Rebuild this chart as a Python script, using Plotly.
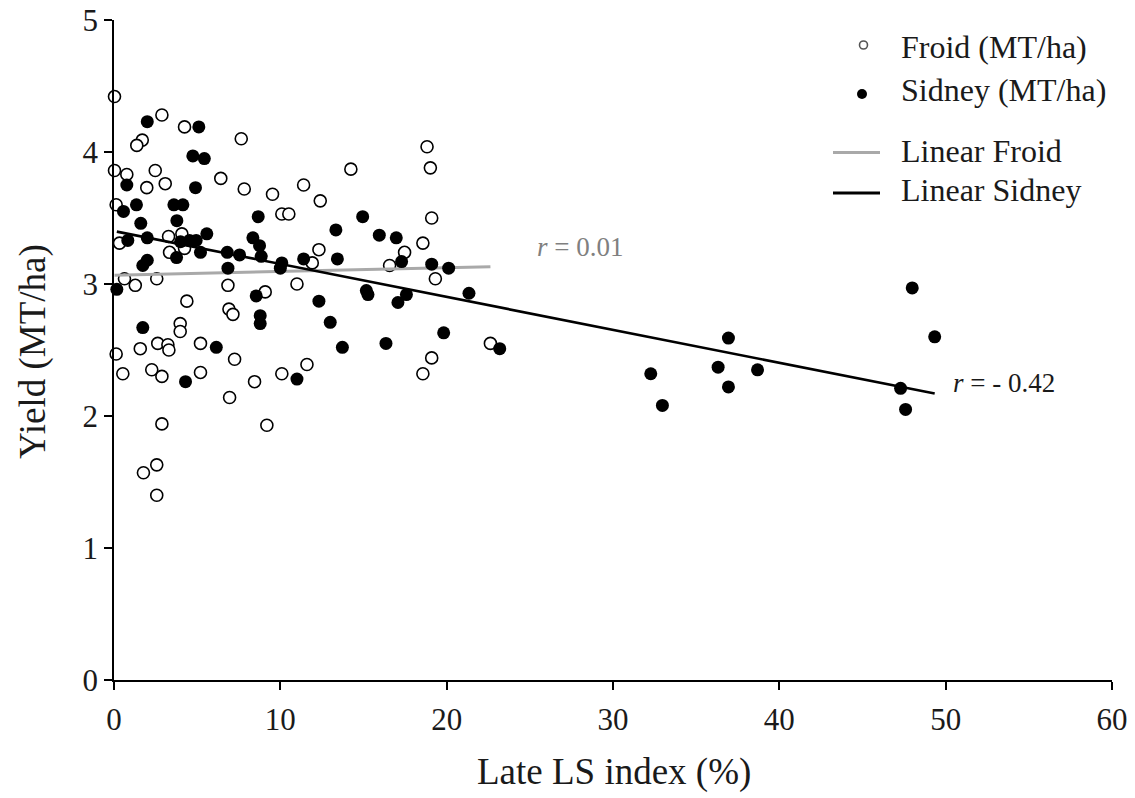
import plotly.graph_objects as go

# Froid site: late leaf-spot index (%) and yield (MT/ha)
froid_x = [0.03, 2.88, 4.24, 1.70, 1.37, 7.65, 0.03, 0.77, 2.48, 1.97,
           3.08, 6.42, 7.83, 9.53, 0.13, 10.09, 10.51, 3.28, 4.08, 0.33,
           3.34, 4.24, 0.63, 2.57, 1.28, 6.85, 4.38, 9.09, 6.91, 7.15,
           3.98, 3.98, 1.58, 2.63, 3.24, 3.30, 5.20, 0.13, 7.25, 0.53,
           2.27, 2.88, 5.20, 8.45, 6.95, 10.09, 2.88, 9.19, 2.57, 1.77,
           2.57, 18.82, 19.02, 14.24, 11.40, 12.40, 19.10, 18.57, 17.47, 12.32,
           11.92, 16.57, 19.32, 11.00, 22.63, 19.10, 18.57, 11.60]
froid_y = [4.42, 4.28, 4.19, 4.09, 4.05, 4.10, 3.86, 3.83, 3.86, 3.73,
           3.76, 3.80, 3.72, 3.68, 3.60, 3.53, 3.53, 3.36, 3.38, 3.31,
           3.24, 3.27, 3.04, 3.04, 2.99, 2.99, 2.87, 2.94, 2.81, 2.77,
           2.70, 2.64, 2.51, 2.55, 2.54, 2.50, 2.55, 2.47, 2.43, 2.32,
           2.35, 2.30, 2.33, 2.26, 2.14, 2.32, 1.94, 1.93, 1.63, 1.57,
           1.40, 4.04, 3.88, 3.87, 3.75, 3.63, 3.50, 3.31, 3.24, 3.26,
           3.16, 3.14, 3.04, 3.00, 2.55, 2.44, 2.32, 2.39]

# Sidney site: late leaf-spot index (%) and yield (MT/ha)
sidney_x = [2.00, 5.10, 4.74, 5.43, 0.77, 4.90, 0.57, 1.35, 3.60, 4.14,
            8.67, 1.61, 3.78, 2.00, 4.00, 4.54, 4.94, 5.58, 0.83, 8.35,
            8.75, 5.20, 6.81, 7.55, 8.85, 2.00, 1.73, 3.76, 6.85, 0.17,
            8.55, 8.79, 8.79, 1.73, 6.15, 4.30, 14.95, 13.34, 15.95, 16.97,
            11.40, 13.43, 17.29, 19.10, 20.12, 10.09, 10.00, 15.17, 15.27, 17.58,
            12.32, 21.34, 17.07, 13.00, 13.73, 16.35, 19.82, 23.19, 11.00, 32.27,
            32.97, 36.94, 36.32, 36.94, 38.69, 47.99, 47.29, 47.59, 49.34]
sidney_y = [4.23, 4.19, 3.97, 3.95, 3.75, 3.73, 3.55, 3.60, 3.60, 3.60,
            3.51, 3.46, 3.48, 3.35, 3.32, 3.33, 3.33, 3.38, 3.33, 3.35,
            3.29, 3.24, 3.24, 3.22, 3.21, 3.18, 3.14, 3.20, 3.12, 2.96,
            2.91, 2.76, 2.70, 2.67, 2.52, 2.26, 3.51, 3.41, 3.37, 3.35,
            3.19, 3.19, 3.17, 3.15, 3.12, 3.16, 3.12, 2.95, 2.92, 2.92,
            2.87, 2.93, 2.86, 2.71, 2.52, 2.55, 2.63, 2.51, 2.28, 2.32,
            2.08, 2.59, 2.37, 2.22, 2.35, 2.97, 2.21, 2.05, 2.60]

# Linear trend coefficients (intercept, slope) and correlation labels
froid_fit = (3.067, 0.0028)
sidney_fit = (3.401, -0.02494)
froid_r = "r = 0.01"
sidney_r = "r = - 0.42"

SERIF = "Liberation Serif, Times New Roman, serif"


def trend(xs, fit):
    x0, x1 = min(xs), max(xs)
    b, m = fit
    return [x0, x1], [b + m * x0, b + m * x1]


fig = go.Figure()

fx, fy = trend(froid_x, froid_fit)
sx, sy = trend(sidney_x, sidney_fit)

fig.add_trace(go.Scatter(x=froid_x, y=froid_y, mode="markers", cliponaxis=False,
                         marker=dict(symbol="circle", size=12, color="white",
                                     line=dict(color="black", width=1.6)),
                         showlegend=False))
fig.add_trace(go.Scatter(x=fx, y=fy, mode="lines", cliponaxis=False,
                         line=dict(color="#a9a9a9", width=3), showlegend=False))
fig.add_trace(go.Scatter(x=sidney_x, y=sidney_y, mode="markers", cliponaxis=False,
                         marker=dict(symbol="circle", size=13, color="black",
                                     line=dict(width=0)),
                         showlegend=False))
fig.add_trace(go.Scatter(x=sx, y=sy, mode="lines", cliponaxis=False,
                         line=dict(color="black", width=2.6), showlegend=False))

# correlation labels beside the trend lines
fig.add_annotation(x=fx[1] + 2.7, y=fy[1] + 0.15, xref="x", yref="y",
                   text="<i>r</i>" + froid_r[1:], showarrow=False,
                   xanchor="left", yanchor="middle",
                   font=dict(family=SERIF, size=27, color="#808080"))
fig.add_annotation(x=sx[1] + 1.0, y=sy[1] + 0.08, xref="x", yref="y",
                   text="<i>r</i>" + sidney_r[1:], showarrow=False,
                   xanchor="left", yanchor="middle",
                   font=dict(family=SERIF, size=27, color="#1a1a1a"))

# hand-built legend in the upper right
L, T, W, H = 114, 20, 998, 660


def px(xp):
    return (xp - L) / W


def py(yp):
    return (T + H - yp) / H


legend_font = dict(family=SERIF, size=32, color="#1a1a1a")
for label, ypix in [("Froid (MT/ha)", 47), ("Sidney (MT/ha)", 90),
                    ("Linear Froid", 151), ("Linear Sidney", 190)]:
    fig.add_annotation(x=px(899), y=py(ypix), xref="paper", yref="paper",
                       text=label, showarrow=False, xanchor="left",
                       yanchor="middle", font=legend_font)

fig.add_shape(type="circle", xref="paper", yref="paper",
              xsizemode="pixel", ysizemode="pixel",
              xanchor=px(863.5), yanchor=py(45), x0=-4, x1=4, y0=-4, y1=4,
              fillcolor="white", line=dict(color="#555555", width=1.6))
fig.add_shape(type="circle", xref="paper", yref="paper",
              xsizemode="pixel", ysizemode="pixel",
              xanchor=px(862), yanchor=py(94), x0=-5, x1=5, y0=-5, y1=5,
              fillcolor="black", line=dict(color="black", width=0))
fig.add_shape(type="line", xref="paper", yref="paper",
              x0=px(833), x1=px(880), y0=py(152.5), y1=py(152.5),
              line=dict(color="#a9a9a9", width=3))
fig.add_shape(type="line", xref="paper", yref="paper",
              x0=px(833), x1=px(880), y0=py(193), y1=py(193),
              line=dict(color="black", width=3))

# axis titles
fig.add_annotation(x=px(614), y=py(772), xref="paper", yref="paper",
                   text="Late LS index (%)", showarrow=False,
                   xanchor="center", yanchor="middle",
                   font=dict(family=SERIF, size=37, color="#1a1a1a"))
fig.add_annotation(x=px(33), y=py(352), xref="paper", yref="paper",
                   text="Yield (MT/ha)", showarrow=False, textangle=-90,
                   xanchor="center", yanchor="middle",
                   font=dict(family=SERIF, size=37, color="#1a1a1a"))

axis_common = dict(showgrid=False, zeroline=False, showline=True,
                   linecolor="black", linewidth=1.6, ticks="outside",
                   ticklen=8, tickwidth=1.6, tickcolor="black", automargin=False,
                   tickfont=dict(family=SERIF, size=31, color="#1a1a1a"))

fig.update_xaxes(range=[0, 60], dtick=10, tick0=0, ticklabelstandoff=3, **axis_common)
fig.update_yaxes(range=[0, 5], dtick=1, tick0=0, ticklabelstandoff=0, **axis_common)

fig.update_layout(width=1135, height=798,
                  margin=dict(l=L, r=1135 - L - W, t=T, b=798 - T - H),
                  plot_bgcolor="white", paper_bgcolor="white",
                  showlegend=False)

fig.write_html("out.html")
